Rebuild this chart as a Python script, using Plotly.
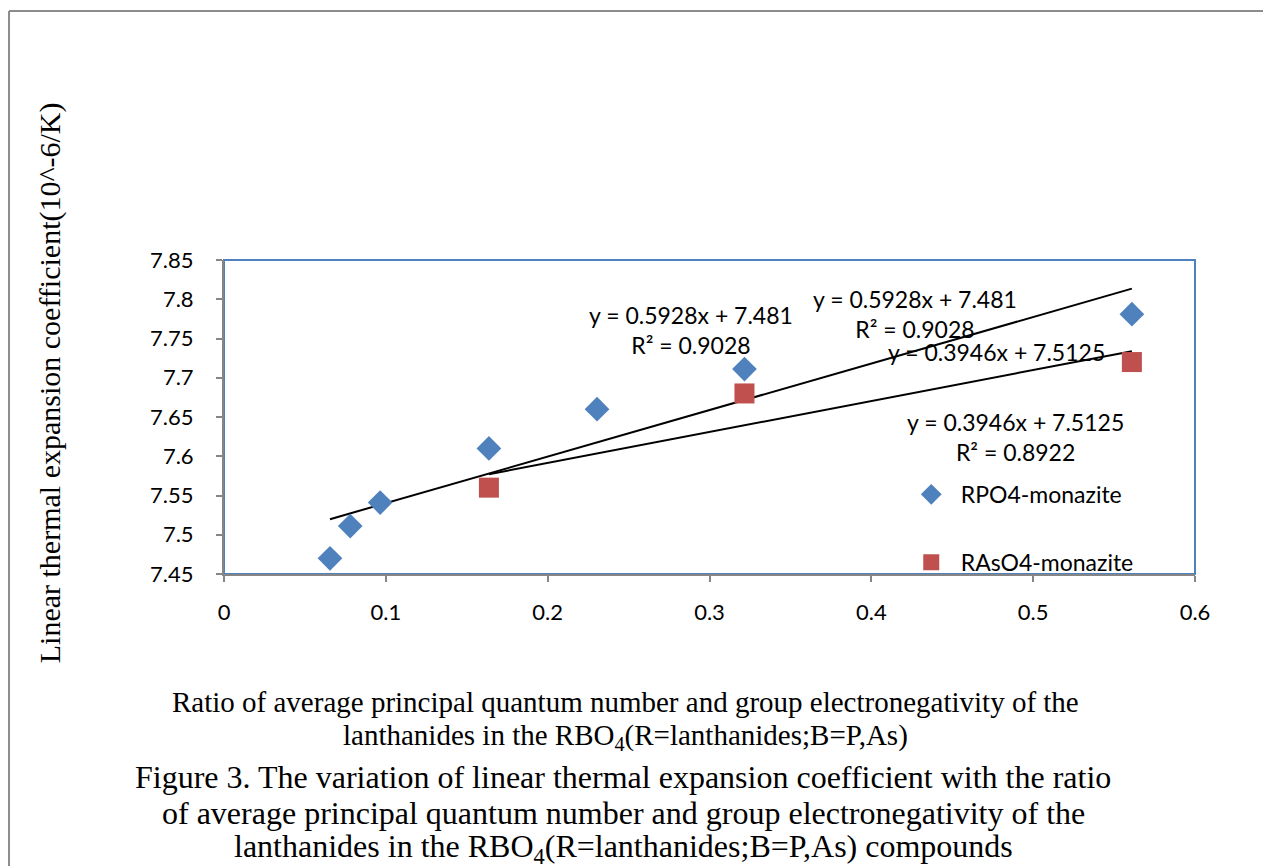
import plotly.graph_objects as go

# RPO4-monazite points
rpo4_x = [0.0655, 0.078, 0.0965, 0.1637, 0.2305, 0.3216, 0.561]
rpo4_y = [7.47, 7.511, 7.541, 7.61, 7.66, 7.711, 7.781]

# RAsO4-monazite points
raso4_x = [0.1637, 0.3216, 0.561]
raso4_y = [7.56, 7.68, 7.72]

# trend line coefficients (from the chart labels)
rpo4_fit = (0.5928, 7.481)
raso4_fit = (0.3946, 7.5125)

x_ticks = [0, 0.1, 0.2, 0.3, 0.4, 0.5, 0.6]
y_ticks = [7.45, 7.5, 7.55, 7.6, 7.65, 7.7, 7.75, 7.8, 7.85]

blue = "#4F81BD"
red = "#C0504D"
num_font = "Lato"
serif = "Liberation Serif"

fig = go.Figure()

# trend lines
for xs, (m, c) in [(rpo4_x, rpo4_fit), (raso4_x, raso4_fit)]:
    x0, x1 = min(xs), max(xs)
    fig.add_trace(
        go.Scatter(
            x=[x0, x1],
            y=[m * x0 + c, m * x1 + c],
            mode="lines",
            line=dict(color="black", width=2),
            showlegend=False,
            hoverinfo="skip",
        )
    )

fig.add_trace(
    go.Scatter(
        x=rpo4_x,
        y=rpo4_y,
        mode="markers",
        name="RPO4-monazite",
        legendgroup="a",
        marker=dict(symbol="diamond", size=19, color=blue),
    )
)
fig.add_trace(
    go.Scatter(
        x=raso4_x,
        y=raso4_y,
        mode="markers",
        name="RAsO4-monazite",
        legendgroup="b",
        marker=dict(symbol="square", size=20, color=red),
    )
)

# trend line labels
labels = [
    (0.2883, 7.761, "y = 0.5928x + 7.481<br>R² = 0.9028"),
    (0.4272, 7.781, "y = 0.5928x + 7.481<br>R² = 0.9028"),
    (0.4772, 7.7328, "y = 0.3946x + 7.5125"),
    (0.4889, 7.6245, "y = 0.3946x + 7.5125<br>R² = 0.8922"),
]
for lx, ly, txt in labels:
    fig.add_annotation(
        x=lx, y=ly, text=txt, showarrow=False,
        font=dict(family=num_font, size=23, color="black"),
    )

# axis title
fig.add_annotation(
    xref="paper", yref="paper", x=-0.179, y=0.608,
    xanchor="center", yanchor="middle",
    text="Linear thermal expansion coefficient(10^-6/K)",
    textangle=-90, showarrow=False,
    font=dict(family=serif, size=30, color="black"),
)

x_title = [
    (0.4135, -0.408, "Ratio of average principal quantum number and group electronegativity of the"),
    (0.4135, -0.519, "lanthanides in the RBO<sub>4</sub>(R=lanthanides;B=P,As)"),
]
for tx, ty, txt in x_title:
    fig.add_annotation(
        xref="paper", yref="paper", x=tx, y=ty, text=txt, showarrow=False,
        xanchor="center", yanchor="middle",
        font=dict(family=serif, size=29, color="black"),
    )

caption = [
    (0.411, -0.646, "Figure 3. The variation of linear thermal expansion coefficient with the ratio"),
    (0.411, -0.761, "of average principal quantum number and group electronegativity of the"),
    (0.411, -0.874, "lanthanides in the RBO<sub>4</sub>(R=lanthanides;B=P,As) compounds"),
]
for tx, ty, txt in caption:
    fig.add_annotation(
        xref="paper", yref="paper", x=tx, y=ty, text=txt, showarrow=False,
        xanchor="center", yanchor="middle",
        font=dict(family=serif, size=32, color="black"),
    )

# outer frame (top and left edges only) and plot border
fig.add_shape(
    type="line", xref="paper", yref="paper",
    x0=-0.2214, y0=1.793, x1=1.5, y1=1.793,
    line=dict(color="#8c8c8c", width=2), layer="below",
)
fig.add_shape(
    type="line", xref="paper", yref="paper",
    x0=-0.2214, y0=1.793, x1=-0.2214, y1=-1.5,
    line=dict(color="#8c8c8c", width=2), layer="below",
)
fig.add_shape(
    type="rect", xref="paper", yref="paper",
    x0=0, y0=0, x1=1, y1=1,
    line=dict(color=blue, width=2), layer="below",
)

fig.update_xaxes(
    range=[0, 0.6], tickvals=x_ticks, ticktext=[f"{v:g}" for v in x_ticks],
    showgrid=False, zeroline=False, showline=True, linecolor="#868686", linewidth=2,
    ticks="outside", ticklen=6, tickcolor="#868686", tickwidth=2,
    ticklabelstandoff=12,
    tickfont=dict(family=num_font, size=22, color="black"),
)
fig.update_yaxes(
    range=[7.45, 7.85], tickvals=y_ticks, ticktext=[f"{v:g}" for v in y_ticks],
    showgrid=False, zeroline=False, showline=True, linecolor="#868686", linewidth=2,
    ticks="outside", ticklen=6, tickcolor="#868686", tickwidth=2,
    ticklabelstandoff=18,
    tickfont=dict(family=num_font, size=22, color="black"),
)

# page body adds 8px offset, so size and margins are shifted by that
fig.update_layout(
    width=1263, height=858,
    margin=dict(l=216, r=76, t=252, b=292),
    plot_bgcolor="white", paper_bgcolor="white",
    legend=dict(
        x=0.698, y=0.322, xanchor="left", yanchor="top",
        font=dict(family=num_font, size=23, color="black"),
        tracegroupgap=35, itemwidth=49, bgcolor="rgba(0,0,0,0)",
    ),
)

fig.write_html("out.html")
